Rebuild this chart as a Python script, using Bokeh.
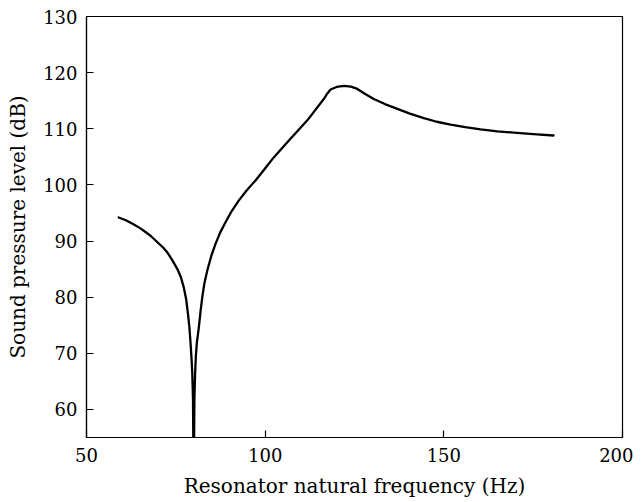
from bokeh.plotting import figure
from bokeh.models import Range1d, FixedTicker
from bokeh.embed import file_html
from bokeh.resources import INLINE

# Data
freq_hz = [59, 61, 63, 65, 66.5, 68, 70, 71.5, 72.6, 74, 75.4, 76.4, 77.2, 77.9,
           78.4, 78.8, 79.1, 79.4, 79.6, 79.8, 80.0, 80.2, 80.4, 80.6, 80.9,
           81.4, 81.9, 82.4, 83.0, 83.8, 84.9, 86.1, 87.4, 88.9, 90.6, 92.6,
           94.8, 97.3, 99.8, 102.4, 106.2, 111.8, 116.4, 117.4, 118.3, 120,
           122, 124, 125.8, 128, 130.4, 133.5, 137, 140.5, 144.4, 148, 151.9,
           156, 160.3, 165, 169.6, 175, 180.7]
spl_db = [94.2, 93.7, 93.05, 92.3, 91.6, 90.9, 89.7, 88.8, 88.0, 86.6, 85.05,
          83.6, 81.8, 79.6, 77.0, 74.6, 72.0, 69.0, 66.5, 62.0, 45.0, 62.0,
          66.5, 69.5, 72.0, 74.4, 77.4, 80.0, 82.5, 84.75, 87.3, 89.5, 91.5,
          93.35, 95.3, 97.2, 99.0, 100.8, 102.8, 104.9, 107.6, 111.5, 115.3,
          116.3, 117.0, 117.45, 117.65, 117.5, 117.1, 116.2, 115.3, 114.4,
          113.55, 112.7, 111.9, 111.25, 110.75, 110.3, 109.9, 109.55, 109.3,
          109.05, 108.8]
x_ticks = [50, 100, 150, 200]
y_ticks = [60, 70, 80, 90, 100, 110, 120, 130]

FONT = "DejaVu Serif"

p = figure(frame_width=536, frame_height=421,
           x_range=Range1d(50, 200), y_range=Range1d(55, 130),
           output_backend="svg", toolbar_location=None,
           min_border_left=86, min_border_right=11,
           min_border_top=16, min_border_bottom=58)

p.line(freq_hz, spl_db, line_color="black", line_width=2.3,
       line_join="round", line_cap="round")

p.grid.visible = False
p.outline_line_color = "black"
p.outline_line_width = 1.2

for ax in (p.xaxis[0], p.yaxis[0]):
    ax.axis_line_color = "black"
    ax.axis_line_width = 1.2
    ax.major_tick_in = 7
    ax.major_tick_out = 0
    ax.minor_tick_in = 0
    ax.minor_tick_out = 0
    ax.major_tick_line_color = "black"
    ax.major_tick_line_width = 1.2
    ax.major_label_text_font = FONT
    ax.major_label_text_font_size = "18px"
    ax.major_label_text_color = "black"
    ax.axis_label_text_font = FONT
    ax.axis_label_text_font_size = "20px"
    ax.axis_label_text_font_style = "normal"
    ax.axis_label_text_color = "black"

p.xaxis.ticker = FixedTicker(ticks=x_ticks)
p.yaxis.ticker = FixedTicker(ticks=y_ticks)
p.xaxis.axis_label = "Resonator natural frequency (Hz)"
p.yaxis.axis_label = "Sound pressure level (dB)"
p.xaxis.major_label_standoff = 10
p.yaxis.major_label_standoff = 9
p.xaxis.axis_label_standoff = 9
p.yaxis.axis_label_standoff = 10

open("out.html", "w").write(file_html(p, INLINE))
